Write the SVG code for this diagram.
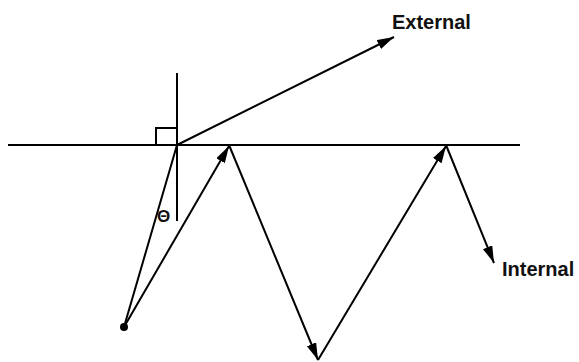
<svg xmlns="http://www.w3.org/2000/svg" width="579" height="362" viewBox="0 0 579 362">
<defs>
<style>
.ln{stroke:#000;stroke-width:2;fill:none}
.arr{stroke:#000;stroke-width:2;fill:none;marker-end:url(#ah)}
.lbl{font-family:"Liberation Sans",Arial,sans-serif;font-weight:bold;font-size:20px;fill:#111}
</style>
<marker id="ah" markerUnits="userSpaceOnUse" markerWidth="18" markerHeight="12" refX="17" refY="5" orient="auto">
<path d="M0,0 L17,5 L0,10 z" fill="#000"/>
</marker>
</defs>
<g id="surface">
<line class="ln" x1="8" y1="145" x2="520" y2="145"/>
</g>
<g id="normal">
<line class="ln" x1="177" y1="73" x2="177" y2="221"/>
<path class="ln" d="M156,145 V128 H177"/>
</g>
<g id="source">
<circle cx="124" cy="327" r="4" fill="#000"/>
</g>
<g id="theta">
<text class="lbl" x="163.5" y="222" text-anchor="middle" style="font-size:17px">Θ</text>
</g>
<g id="connectors">
<line class="ln" x1="124" y1="327" x2="177" y2="145"/>
<line class="arr" x1="124" y1="327" x2="229" y2="146"/>
<line class="arr" x1="229" y1="145" x2="318" y2="360"/>
<line class="arr" x1="318" y1="360" x2="446" y2="146"/>
<line class="arr" x1="446" y1="145" x2="494" y2="263"/>
<line class="arr" x1="177" y1="145" x2="394" y2="37"/>
</g>
<g id="external">
<text class="lbl" x="392" y="29">External</text>
</g>
<g id="internal">
<text class="lbl" x="502" y="276">Internal</text>
</g>
</svg>
